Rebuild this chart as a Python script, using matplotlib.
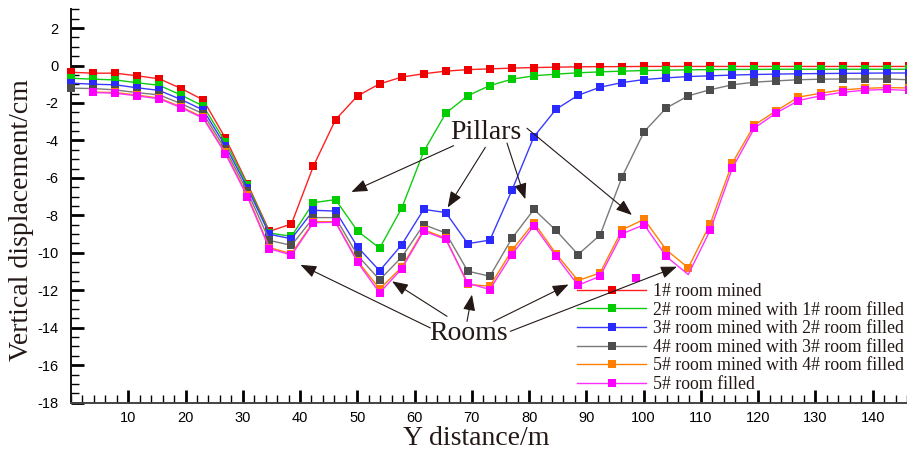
import numpy as np
import matplotlib
matplotlib.use("Agg")
import matplotlib.pyplot as plt
from matplotlib.ticker import MultipleLocator

# ---------------- data ----------------
y_distance = [0.0, 3.85, 7.7, 11.55, 15.4, 19.25, 23.1, 26.95, 30.8, 34.65,
              38.5, 42.35, 46.2, 50.05, 53.9, 57.75, 61.6, 65.45, 69.3, 73.15,
              77.0, 80.85, 84.7, 88.55, 92.4, 96.25, 100.1, 103.95, 107.8, 111.65,
              115.5, 119.35, 123.2, 127.05, 130.9, 134.75, 138.6, 142.45, 146.3]

room1_mined = [-0.36, -0.41, -0.41, -0.55, -0.71, -1.23, -1.84, -3.87, -6.30, -8.85,
               -8.46, -5.36, -2.89, -1.62, -0.98, -0.62, -0.44, -0.30, -0.22, -0.18,
               -0.14, -0.11, -0.09, -0.07, -0.06, -0.06, -0.05, -0.05, -0.05, -0.05,
               -0.05, -0.05, -0.05, -0.05, -0.05, -0.05, -0.05, -0.05, -0.05]

room2_mined = [-0.68, -0.73, -0.77, -0.92, -1.06, -1.58, -2.17, -4.08, -6.38, -8.94,
               -9.12, -7.32, -7.16, -8.84, -9.75, -7.62, -4.59, -2.55, -1.61, -1.07,
               -0.73, -0.55, -0.46, -0.39, -0.34, -0.30, -0.27, -0.25, -0.23, -0.22,
               -0.21, -0.21, -0.20, -0.20, -0.20, -0.20, -0.20, -0.20, -0.20]

room3_mined = [-0.94, -1.00, -1.03, -1.19, -1.33, -1.82, -2.38, -4.28, -6.52, -9.01,
               -9.25, -7.73, -7.77, -9.69, -10.96, -9.57, -7.68, -7.85, -9.51, -9.32,
               -6.66, -3.80, -2.34, -1.59, -1.16, -0.91, -0.75, -0.66, -0.59, -0.55,
               -0.51, -0.48, -0.46, -0.44, -0.43, -0.42, -0.41, -0.40, -0.40]

room4_mined = [-1.21, -1.23, -1.30, -1.45, -1.57, -2.04, -2.58, -4.48, -6.72, -9.34,
               -9.60, -8.12, -8.12, -10.14, -11.44, -10.23, -8.50, -8.94, -10.98, -11.25,
               -9.23, -7.68, -8.80, -10.09, -9.05, -5.94, -3.53, -2.27, -1.62, -1.29,
               -1.03, -0.89, -0.82, -0.76, -0.73, -0.72, -0.72, -0.72, -0.76]

room5_mined = [np.nan, -1.42, -1.44, -1.58, -1.74, -2.21, -2.77, -4.64, -6.92, -9.72,
               -10.05, -8.33, -8.34, -10.44, -11.93, -10.77, -8.77, -9.22, -11.69, -11.78,
               -9.87, -8.39, -10.05, -11.48, -11.07, -8.77, -8.21, -9.84, -10.80, -8.44,
               -5.20, -3.18, -2.41, -1.69, -1.48, -1.30, -1.22, -1.18, -1.20]

room5_filled = [np.nan, -1.44, -1.48, -1.62, -1.78, -2.25, -2.82, -4.70, -7.00, -9.78,
                -10.12, -8.39, -8.37, -10.50, -12.14, -10.85, -8.84, -9.28, -11.62, -11.96,
                -10.09, -8.55, -10.18, -11.73, -11.25, -8.98, -8.50, -10.19, -11.16, -8.78,
                -5.48, -3.34, -2.53, -1.87, -1.62, -1.43, -1.32, -1.28, -1.33]

# one symbol of the last case sits apart from its curve
room5_filled_lone_x = [98.67]
room5_filled_lone_y = [-11.34]

labels = ["1# room mined",
          "2# room mined with 1# room filled",
          "3# room mined with 2# room filled",
          "4# room mined with 3# room filled",
          "5# room mined with 4# room filled",
          "5# room filled"]

series = [room1_mined, room2_mined, room3_mined, room4_mined, room5_mined, room5_filled]
line_colors = ["#ff2020", "#10cc10", "#3a3aff", "#7a7a7a", "#ff8000", "#ff30ff"]
marker_colors = ["#ee0000", "#00cc00", "#2a2aff", "#4d4d4d", "#ff8000", "#ff00ff"]

# ---------------- figure ----------------
W, H, DPI = 907, 451, 100
fig = plt.figure(figsize=(W / DPI, H / DPI), dpi=DPI)
ax = fig.add_axes([71 / W, (H - 402.7) / H, (W - 71) / W, (402.7 - 9.3) / H])

serif = "Liberation Serif"
sans = "Liberation Sans"
txt_color = "#231815"

for k, (vals, lab) in enumerate(zip(series, labels)):
    kw = {}
    if k == 5:
        kw["markevery"] = [j for j in range(len(vals)) if j != 28]
    ax.plot(y_distance, vals, color=line_colors[k], lw=1.0, marker="s",
            markersize=6.4, markerfacecolor=marker_colors[k],
            markeredgecolor=marker_colors[k], markeredgewidth=0,
            label=lab, zorder=3 + k, **kw)
    ax.lines[-1].set_clip_on(False)

ax.plot(room5_filled_lone_x, room5_filled_lone_y, ls="none", marker="s",
        markersize=6.4, markerfacecolor=marker_colors[5],
        markeredgewidth=0, zorder=9)

ax.set_xlim(0, 146)
ax.set_ylim(-18, 3)

# axes styling
for s in ["top", "right"]:
    ax.spines[s].set_visible(False)
ax.spines["left"].set_linewidth(1.4)
ax.spines["bottom"].set_linewidth(1.4)
ax.spines["left"].set_color("#111111")
ax.spines["bottom"].set_color("#444444")

ax.xaxis.set_major_locator(MultipleLocator(10))
ax.xaxis.set_minor_locator(MultipleLocator(2))
ax.yaxis.set_major_locator(MultipleLocator(2))
ax.yaxis.set_minor_locator(MultipleLocator(0.5))
ax.tick_params(which="major", direction="in", length=9.5, width=2.0, color="#000000")
ax.tick_params(which="minor", direction="in", length=5.5, width=1.0, color="#000000")
ax.tick_params(axis="x", which="major", pad=6)
ax.tick_params(axis="y", which="major", pad=9)

xt = list(range(10, 150, 10))
ax.set_xticks(xt)
ax.set_xticklabels([str(v) for v in xt])
yt = list(range(-18, 3, 2))
ax.set_yticks(yt)
ax.set_yticklabels([str(v) for v in yt])
for lbl in ax.get_xticklabels() + ax.get_yticklabels():
    lbl.set_fontfamily(sans)
    lbl.set_fontsize(10.5)
    lbl.set_color("#000000")

# axis titles
fig.text(22 / W, 1 - 220 / H, "Vertical displacement/cm", rotation=90,
         ha="center", va="center", family=serif, fontsize=20, color=txt_color)
fig.text(476 / W, 1 - 445 / H, "Y distance/m", ha="center", va="baseline",
         family=serif, fontsize=20, color=txt_color)

# annotations
arrow_kw = dict(arrowstyle="-|>,head_length=0.65,head_width=0.25", color=txt_color,
                lw=0.8, shrinkA=0, shrinkB=0, mutation_scale=15)

ax.text(72.36, -3.55, "Pillars", ha="center", va="center", family=serif,
        fontsize=20, color=txt_color, zorder=20)
pillar_arrows = [((66.82, -4.28), (48.97, -6.75)),
                 ((72.36, -4.37), (65.78, -7.58)),
                 ((76.14, -4.14), (79.34, -7.14)),
                 ((79.63, -3.35), (97.96, -7.98))]
for start, end in pillar_arrows:
    ax.annotate("", xy=end, xytext=start, arrowprops=arrow_kw, zorder=20)

ax.text(69.39, -14.3, "Rooms", ha="center", va="center", family=serif,
        fontsize=20, color=txt_color, zorder=20)
room_arrows = [((62.76, -14.01), (40.07, -10.64)),
               ((65.67, -13.39), (56.07, -11.52)),
               ((69.16, -13.66), (70.03, -12.23)),
               ((73.80, -13.66), (86.89, -11.69)),
               ((76.72, -14.19), (105.81, -10.74))]
for start, end in room_arrows:
    ax.annotate("", xy=end, xytext=start, arrowprops=arrow_kw, zorder=20)

# legend
leg = ax.legend(loc="upper left", bbox_to_anchor=(577 / W, 1 - 283 / H),
                bbox_transform=fig.transFigure, frameon=False, borderpad=0,
                borderaxespad=0, handlelength=3.9, handletextpad=0.35,
                labelspacing=0.09, numpoints=1,
                prop={"family": serif, "size": 12.8})
for t in leg.get_texts():
    t.set_color(txt_color)

fig.savefig("out.png", dpi=DPI)
